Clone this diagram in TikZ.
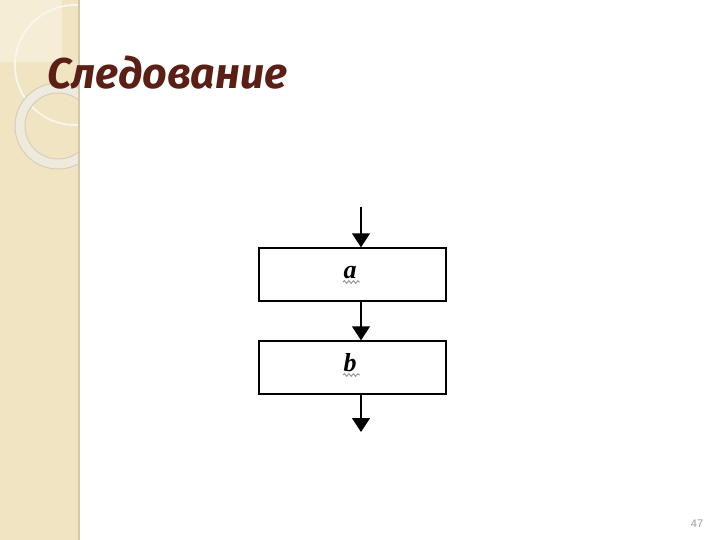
\documentclass[tikz,border=0pt]{standalone}
\usepackage{fontspec}
\usepackage[x11names, rgb]{xcolor}
\usepackage{tikz}
\usetikzlibrary{arrows.meta,decorations.pathmorphing,calc}

\newfontfamily\titlefont{Fira Sans}
\newfontfamily\numfont{Liberation Sans}
\newfontfamily\labelfont{Liberation Serif}

\definecolor{sidebeige}{RGB}{240,228,194}
\definecolor{sidelight}{RGB}{245,237,214}
\definecolor{sideedge}{RGB}{214,200,166}
\definecolor{ringfill}{RGB}{238,234,222}
\definecolor{ringline}{RGB}{215,206,184}
\definecolor{titlebrown}{RGB}{92,31,22}
\definecolor{squiggle}{RGB}{140,150,145}

\begin{document}
\begin{tikzpicture}[x=1pt,y=-1pt]
\tikzset{
	step box/.style = {rectangle, draw, line width = 1.4pt, minimum width = 187pt, minimum height = 53pt, inner sep = 0},
	step label/.style = {anchor = base, inner sep = 0, font = \labelfont\fontsize{26}{26}\selectfont\bfseries\itshape},
	flow arrow/.style = {line width = 1.4pt, -{Triangle[length = 14pt, width = 18pt]}},
	wavy line/.style = {squiggle, line width = 0.9pt, decorate, decoration = {snake, amplitude = 1.3pt, segment length = 4.5pt}}
}

% page and side strip
\useasboundingbox (0,0) rectangle (720,540);
\fill[white] (0,0) rectangle (720,540);
\fill[sidebeige] (0,0) rectangle (79,540);
\fill[sidelight] (0,0) rectangle (62,62);
\begin{scope}
	\clip (0,0) rectangle (79,540);
	\draw[sidelight!50!white, line width = 1.8pt] (75,65) circle (60);
	\fill[ringfill, even odd rule] (58,126) circle (43) (58,126) circle (33);
	\draw[ringline, line width = 1pt] (58,126) circle (43) (58,126) circle (33);
\end{scope}
\draw[sideedge, line width = 1.5pt] (79,0) -- (79,540);

% title
\node(title)[anchor = base west, inner sep = 0, text = titlebrown, font = \titlefont\fontsize{43}{43}\selectfont\bfseries\itshape] at (47,89) {Следование};

% flow chart
\node(a)[step box] at (352.5,274.5) {};
\node(b)[step box] at (352.5,367.5) {};
\node(la)[step label] at (350,278) {a};
\node(lb)[step label] at (350,371) {b};
\draw[wavy line] ($(la.base)+(-7,4)$) -- ++(17,0);
\draw[wavy line] ($(lb.base)+(-7,4)$) -- ++(17,0);

\coordinate (in) at (361,207);
\coordinate (out) at (361,432);
\draw[flow arrow] (in) -- (in |- a.north);
\draw[flow arrow] (a.south -| in) -- (b.north -| in);
\draw[flow arrow] (b.south -| in) -- (out);

\node(page)[text = gray!80, font = \numfont\fontsize{11}{11}\selectfont] at (697,524) {47};
\end{tikzpicture}
\end{document}
